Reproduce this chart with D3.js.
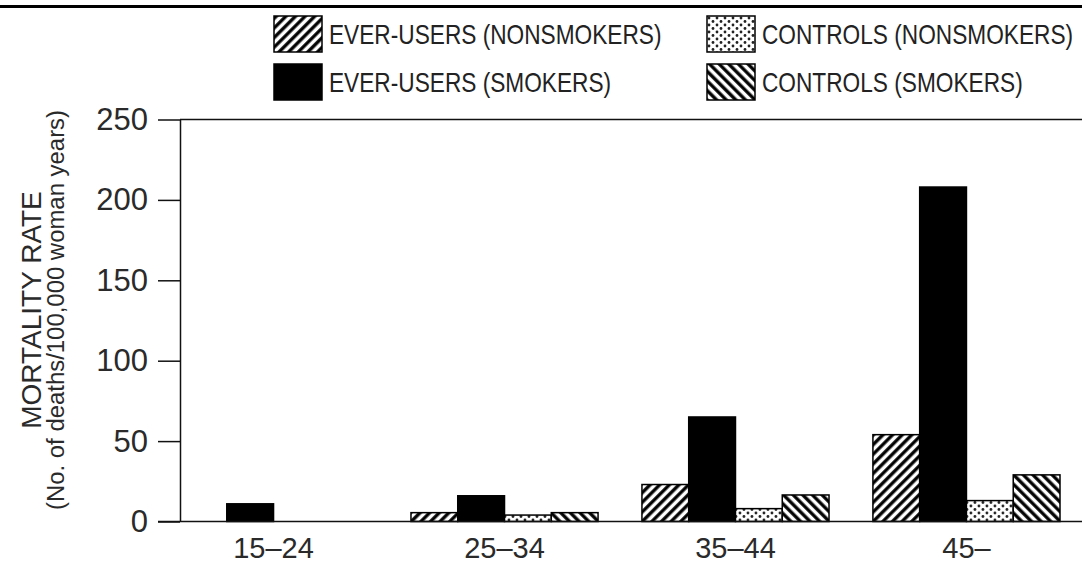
<!DOCTYPE html>
<html>
<head>
<meta charset="utf-8">
<script src="https://cdn.jsdelivr.net/npm/d3@7/dist/d3.min.js"></script>
<style>
  html, body { margin: 0; padding: 0; background: #fff; }
  svg { display: block; font-family: "Liberation Sans", Arial, Helvetica, sans-serif; }
</style>
</head>
<body>
<div id="chart"></div>
<script>
// Mortality rate by age group, ever-users vs controls
const ageGroups = ["15–24", "25–34", "35–44", "45–"];
const seriesNames = [
  "EVER-USERS (NONSMOKERS)",
  "EVER-USERS (SMOKERS)",
  "CONTROLS (NONSMOKERS)",
  "CONTROLS (SMOKERS)"
];
const everUsersNonsmokers = [0, 5.5, 23, 54];
const everUsersSmokers = [11, 16, 65, 208];
const controlsNonsmokers = [0, 4, 8, 13];
const controlsSmokers = [0, 5.5, 16.5, 29];
const yTicks = [0, 50, 100, 150, 200, 250];

const width = 1082;
const height = 565;
const plotLeft = 180, plotRight = 1082, plotTop = 119.5, plotBottom = 521.5;

const seriesValues = [everUsersNonsmokers, everUsersSmokers, controlsNonsmokers, controlsSmokers];
const fills = ["url(#hatchUp)", "#000", "url(#dots)", "url(#hatchDown)"];

const svg = d3.select("#chart")
  .append("svg")
  .attr("width", width)
  .attr("height", height);

svg.append("rect").attr("width", width).attr("height", height).attr("fill", "#fff");

// patterns
const defs = svg.append("defs");
function hatch(id, angle) {
  const p = defs.append("pattern")
    .attr("id", id)
    .attr("patternUnits", "userSpaceOnUse")
    .attr("width", 6.8)
    .attr("height", 6.8)
    .attr("patternTransform", `rotate(${angle})`);
  p.append("rect").attr("width", 6.8).attr("height", 6.8).attr("fill", "#fff");
  p.append("line")
    .attr("x1", 1.8).attr("y1", 0).attr("x2", 1.8).attr("y2", 6.8)
    .attr("stroke", "#000").attr("stroke-width", 3.3);
}
hatch("hatchUp", 45);
hatch("hatchDown", -45);

const dots = defs.append("pattern")
  .attr("id", "dots")
  .attr("patternUnits", "userSpaceOnUse")
  .attr("width", 8)
  .attr("height", 7);
dots.append("rect").attr("width", 8).attr("height", 7).attr("fill", "#fff");
dots.append("circle").attr("cx", 2).attr("cy", 2).attr("r", 1.4).attr("fill", "#222");
dots.append("circle").attr("cx", 6).attr("cy", 5.5).attr("r", 1.4).attr("fill", "#222");

// top rule
svg.append("line")
  .attr("x1", 0).attr("x2", width)
  .attr("y1", 6.5).attr("y2", 6.5)
  .attr("stroke", "#000").attr("stroke-width", 3);

const y = d3.scaleLinear().domain([0, 250]).range([plotBottom, plotTop]);

const x0 = d3.scaleBand()
  .domain(ageGroups)
  .range([plotLeft, 1060])
  .paddingInner(0.19)
  .paddingOuter(0);

const x1 = d3.scaleBand()
  .domain(d3.range(seriesNames.length))
  .range([0, x0.bandwidth()]);

// frame line at 250
svg.append("line")
  .attr("x1", plotLeft).attr("x2", plotRight)
  .attr("y1", y(250)).attr("y2", y(250))
  .attr("stroke", "#111").attr("stroke-width", 1.5);

// bars
const groups = svg.selectAll("g.age")
  .data(ageGroups)
  .enter()
  .append("g")
  .attr("class", "age")
  .attr("transform", d => `translate(${x0(d)},0)`);

groups.selectAll("rect")
  .data((d, i) => seriesValues.map((vals, s) => ({ series: s, value: vals[i] })).filter(b => b.value > 0))
  .enter()
  .append("rect")
  .attr("x", d => x1(d.series))
  .attr("width", x1.bandwidth())
  .attr("y", d => y(d.value))
  .attr("height", d => y(0) - y(d.value))
  .attr("fill", d => fills[d.series])
  .attr("stroke", "#000")
  .attr("stroke-width", 1.5);

// y axis
const yAxis = svg.append("g")
  .attr("transform", `translate(${plotLeft},0)`)
  .call(d3.axisLeft(y).tickValues(yTicks).tickSize(22).tickSizeOuter(0).tickPadding(10));
yAxis.select(".domain").attr("stroke", "#111").attr("stroke-width", 1.5);
yAxis.selectAll(".tick line").attr("stroke", "#111").attr("stroke-width", 1.5);
yAxis.selectAll(".tick text")
  .attr("fill", "#2a2a2a")
  .style("font-size", "31px")
  .style("font-family", "'Liberation Sans', Arial, sans-serif");

// baseline
svg.append("line")
  .attr("x1", plotLeft - 22).attr("x2", plotRight)
  .attr("y1", y(0)).attr("y2", y(0))
  .attr("stroke", "#111").attr("stroke-width", 1.5);

// x labels
svg.selectAll("text.xlab")
  .data(ageGroups)
  .enter()
  .append("text")
  .attr("class", "xlab")
  .attr("x", d => x0(d) + x0.bandwidth() / 2)
  .attr("y", 558)
  .attr("text-anchor", "middle")
  .attr("fill", "#2a2a2a")
  .style("font-size", "29px")
  .text(d => d);

// y title
const midY = 310;
svg.append("text")
  .attr("transform", `translate(41,${midY}) rotate(-90)`)
  .attr("text-anchor", "middle")
  .attr("fill", "#2a2a2a")
  .style("font-size", "28px")
  .text("MORTALITY RATE");
svg.append("text")
  .attr("transform", `translate(64,${midY}) rotate(-90) scale(1.04,1)`)
  .attr("text-anchor", "middle")
  .attr("fill", "#2a2a2a")
  .style("font-size", "23px")
  .text("(No. of deaths/100,000 woman years)");

// legend
const legendCols = [274, 707];
const legendRows = [16, 64];
const legend = svg.selectAll("g.legend")
  .data(seriesNames)
  .enter()
  .append("g")
  .attr("class", "legend")
  .attr("transform", (d, i) => `translate(${legendCols[Math.floor(i / 2)]},${legendRows[i % 2]})`);

legend.append("rect")
  .attr("width", 48)
  .attr("height", 36)
  .attr("fill", (d, i) => fills[i])
  .attr("stroke", "#000")
  .attr("stroke-width", 1.5);

// original lettering is narrower than Liberation Sans, so squeeze it
legend.append("text")
  .attr("transform", "translate(55,28) scale(0.84,1)")
  .attr("fill", "#222")
  .style("font-size", "27px")
  .text(d => d);
</script>
</body>
</html>
